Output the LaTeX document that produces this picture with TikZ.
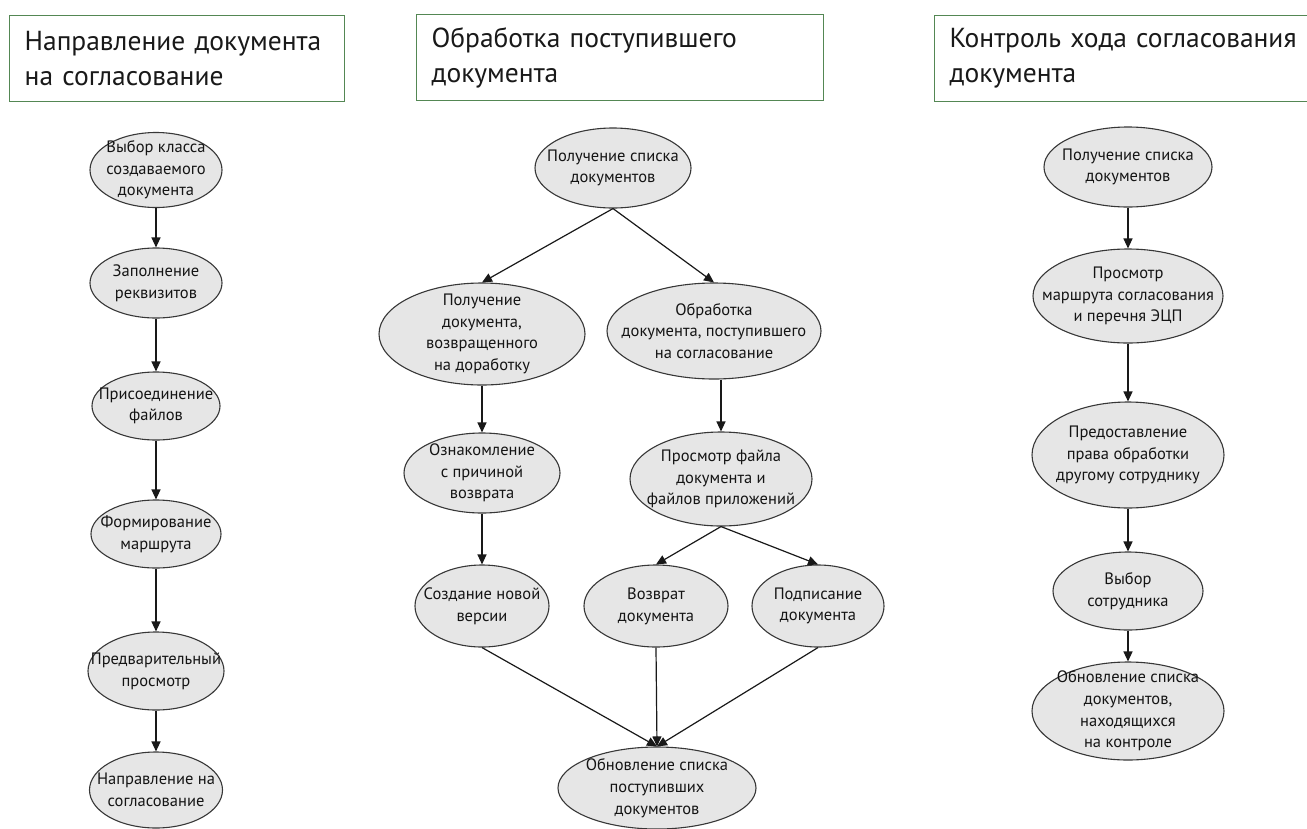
\documentclass[tikz,border=0pt]{standalone}
\usepackage{fontspec}
\setmainfont{PT Sans}
\usetikzlibrary{shapes.geometric,arrows.meta}
\definecolor{boxgreen}{RGB}{84,135,84}
\definecolor{elfill}{RGB}{230,230,230}
\definecolor{elline}{RGB}{55,55,55}
\tikzset{
 titlebox/.style={draw=boxgreen, line width=1.3pt, fill=white, align=left, inner xsep=15pt, anchor=north west, minimum height=86pt, font=\fontsize{27.5}{35}\selectfont, text=black!90},
 el/.style={ellipse, draw=elline, line width=1.1pt, fill=elfill, inner sep=0pt},
 eltext/.style={align=center, font=\fontsize{16.5}{21.7}\selectfont, text=black!92, inner sep=0pt},
 arr/.style={-{Triangle[length=10pt,width=9pt]}, line width=1.2pt, draw=black!90},
}
\begin{document}
\begin{tikzpicture}[x=1pt,y=-1pt]
\useasboundingbox[fill=white] (0,0) rectangle (1307,828);
% titles
\node[titlebox, text width=305pt] (t1) at (9,15) {Направление документа\\на согласование};
\node[titlebox, text width=377pt] (t2) at (416,14) {Обработка поступившего\\документа};
\node[titlebox, text width=370pt] (t3) at (934,15) {Контроль хода согласования\\документа};
% column 1
\node[el, minimum width=132, minimum height=75, label={[eltext]center:{Выбор класса\\создаваемого\\документа}}] (a1) at (156,170) {};
\node[el, minimum width=132, minimum height=70, label={[eltext]center:{Заполнение\\реквизитов}}] (a2) at (156,283) {};
\node[el, minimum width=128, minimum height=68, label={[eltext]center:{Присоединение\\файлов}}] (a3) at (156,406) {};
\node[el, minimum width=130, minimum height=68, label={[eltext]center:{Формирование\\маршрута}}] (a4) at (156,534) {};
\node[el, minimum width=136, minimum height=78, label={[eltext]center:{Предварительный\\просмотр}}] (a5) at (156,671) {};
\node[el, minimum width=133, minimum height=76, label={[eltext]center:{Направление на\\согласование}}] (a6) at (156,790) {};
\draw[arr] (a1.south) -- (a2.north);
\draw[arr] (a2.south) -- (a3.north);
\draw[arr] (a3.south) -- (a4.north);
\draw[arr] (a4.south) -- (a5.north);
\draw[arr] (a5.south) -- (a6.north);
% column 2
\node[el, minimum width=156, minimum height=80, label={[eltext]center:{Получение списка\\документов}}] (b1) at (613,168) {};
\node[el, minimum width=206, minimum height=102, label={[eltext]center:{Получение\\документа,\\возвращенного\\на доработку}}] (b2) at (482,334) {};
\node[el, minimum width=214, minimum height=96, label={[eltext]center:{Обработка\\документа, поступившего\\на согласование}}] (b3) at (714,331) {};
\node[el, minimum width=156, minimum height=80, label={[eltext]center:{Ознакомление\\с причиной\\возврата}}] (b4) at (482,473) {};
\node[el, minimum width=182, minimum height=94, label={[eltext]center:{Просмотр файла\\документа и\\файлов приложений}}] (b5) at (721,479) {};
\node[el, minimum width=134, minimum height=82, label={[eltext]center:{Создание новой\\версии}}] (b6) at (482,606) {};
\node[el, minimum width=144, minimum height=82, label={[eltext]center:{Возврат\\документа}}] (b7) at (656,606) {};
\node[el, minimum width=132, minimum height=82, label={[eltext]center:{Подписание\\документа}}] (b8) at (818,606) {};
\node[el, minimum width=198, minimum height=82, label={[eltext]center:{Обновление списка\\поступивших\\документов}}] (b9) at (657,788) {};
\draw[arr] (b1.south) -- (b2.north);
\draw[arr] (b1.south) -- (b3.north);
\draw[arr] (b2.south) -- (b4.north);
\draw[arr] (b4.south) -- (b6.north);
\draw[arr] (b3.south -| b5.north) -- (b5.north);
\draw[arr] (b5.south) -- (b7.north);
\draw[arr] (b5.south) -- (b8.north);
\draw[arr] (b6.south) -- (b9.north);
\draw[arr] (b7.south) -- (b9.north);
\draw[arr] (b8.south) -- (b9.north);
% column 3
\node[el, minimum width=168, minimum height=80, label={[eltext]center:{Получение списка\\документов}}] (c1) at (1128,167) {};
\node[el, minimum width=190, minimum height=94, label={[eltext]center:{Просмотр\\маршрута согласования\\и перечня ЭЦП}}] (c2) at (1128,296) {};
\node[el, minimum width=192, minimum height=106, label={[eltext]center:{Предоставление\\права обработки\\другому сотруднику}}] (c3) at (1128,455) {};
\node[el, minimum width=150, minimum height=78, label={[eltext]center:{Выбор\\сотрудника}}] (c4) at (1128,591) {};
\node[el, minimum width=192, minimum height=98, label={[eltext]center:{Обновление списка\\документов,\\находящихся\\на контроле}}] (c5) at (1128,711) {};
\draw[arr] (c1.south) -- (c2.north);
\draw[arr] (c2.south) -- (c3.north);
\draw[arr] (c3.south) -- (c4.north);
\draw[arr] (c4.south) -- (c5.north);
\end{tikzpicture}
\end{document}
